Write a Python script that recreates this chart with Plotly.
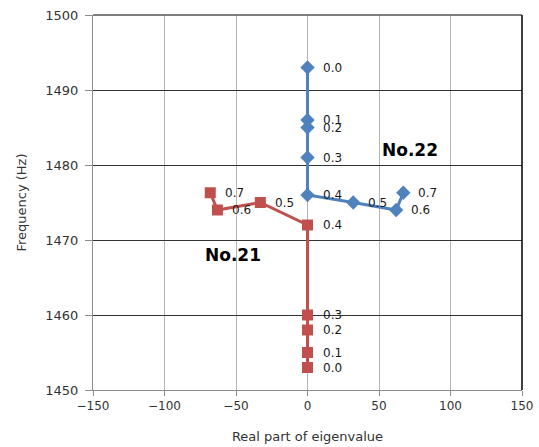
import plotly.graph_objects as go

# Eigenvalue loci of two modes as the parameter goes from 0.0 to 0.7
params = ["0.0", "0.1", "0.2", "0.3", "0.4", "0.5", "0.6", "0.7"]

no22_real = [0, 0, 0, 0, 0, 32, 62, 67]
no22_freq = [1493, 1486, 1485, 1481, 1476, 1475, 1474, 1476.3]

no21_real = [0, 0, 0, 0, 0, -33, -63, -68]
no21_freq = [1453, 1455, 1458, 1460, 1472, 1475, 1474, 1476.3]

BLUE = "#4F81BD"
RED = "#C0504D"
FONT = "DejaVu Sans"

fig = go.Figure()
fig.add_trace(go.Scatter(
    x=no22_real, y=no22_freq, mode="lines+markers", name="No.22",
    line=dict(color=BLUE, width=3),
    marker=dict(symbol="diamond", size=11, color=BLUE),
))
fig.add_trace(go.Scatter(
    x=no21_real, y=no21_freq, mode="lines+markers", name="No.21",
    line=dict(color=RED, width=3),
    marker=dict(symbol="square", size=11, color=RED),
))

# Parameter value printed to the right of each point
annotations = []
for xs, ys in ((no22_real, no22_freq), (no21_real, no21_freq)):
    for x, y, p in zip(xs, ys, params):
        annotations.append(dict(
            x=x, y=y, text=p, showarrow=False, xanchor="left", yanchor="middle",
            xshift=13, font=dict(family=FONT, size=12, color="#1a1a1a"),
        ))

annotations.append(dict(x=72, y=1482, text="<b>No.22</b>", showarrow=False,
                        font=dict(family=FONT, size=17, color="black")))
annotations.append(dict(x=-52, y=1468, text="<b>No.21</b>", showarrow=False,
                        font=dict(family=FONT, size=17, color="black")))

fig.update_layout(
    width=539, height=447,
    margin=dict(l=93, r=17, t=15, b=57),
    paper_bgcolor="white", plot_bgcolor="white",
    showlegend=False,
    font=dict(family=FONT, size=12, color="#333"),
    annotations=annotations,
    shapes=[
        dict(type="line", xref="paper", yref="paper", x0=0, x1=1, y0=1, y1=1,
             line=dict(color="#555", width=1.5)),
        dict(type="line", xref="paper", yref="paper", x0=1, x1=1, y0=0, y1=1,
             line=dict(color="black", width=1.5)),
    ],
)

fig.update_xaxes(
    range=[-150, 150], tickvals=[-150, -100, -50, 0, 50, 100, 150],
    ticktext=["\u2212150", "\u2212100", "\u221250", "0", "50", "100", "150"],
    automargin=False, ticklabeloverflow="allow",
    showgrid=True, gridcolor="#b4b4b4", gridwidth=1,
    zeroline=False, showline=True, linecolor="#8c8c8c", linewidth=1,
    ticks="outside", ticklen=5, tickcolor="#8c8c8c",
    tickfont=dict(family=FONT, size=12, color="#333"),
    title=dict(text="Real part of eigenvalue", standoff=19,
               font=dict(family=FONT, size=13, color="#333")),
)
fig.update_yaxes(
    range=[1450, 1500], tickvals=[1450, 1460, 1470, 1480, 1490, 1500],
    automargin=False, ticklabeloverflow="allow", ticklabelstandoff=4,
    showgrid=True, gridcolor="#333", gridwidth=1,
    zeroline=False, showline=True, linecolor="#8c8c8c", linewidth=1,
    ticks="outside", ticklen=7, tickcolor="#8c8c8c",
    tickfont=dict(family=FONT, size=13, color="#333"),
    title=dict(text="Frequency (Hz)", standoff=15,
               font=dict(family=FONT, size=13, color="#333")),
)

fig.write_html("out.html")
